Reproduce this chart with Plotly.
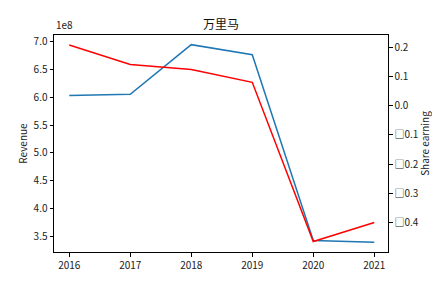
import plotly.graph_objects as go

years = [2016, 2017, 2018, 2019, 2020, 2021]
revenue = [6.03e8, 6.05e8, 6.94e8, 6.76e8, 3.43e8, 3.40e8]
share_earning = [0.208, 0.141, 0.124, 0.080, -0.465, -0.400]

left_ticks = [3.5, 4.0, 4.5, 5.0, 5.5, 6.0, 6.5, 7.0]
left_text = ["3.5", "4.0", "4.5", "5.0", "5.5", "6.0", "6.5", "7.0"]
right_ticks = [-0.4, -0.3, -0.2, -0.1, 0.0, 0.1, 0.2]
right_text = ["□0.4", "□0.3", "□0.2", "□0.1", "0.0", "0.1", "0.2"]

font = "Noto Sans CJK SC, DejaVu Sans, sans-serif"

fig = go.Figure()
fig.add_trace(go.Scatter(x=years, y=[v / 1e8 for v in revenue], mode="lines",
                         line=dict(color="#1f77b4", width=1.5), yaxis="y", showlegend=False))
fig.add_trace(go.Scatter(x=years, y=share_earning, mode="lines",
                         line=dict(color="red", width=1.5), yaxis="y2", showlegend=False))

fig.update_layout(
    width=432, height=288,
    margin=dict(l=54, r=44, t=35, b=36),
    paper_bgcolor="white", plot_bgcolor="white",
    font=dict(family=font, size=10, color="#222"),
    title=dict(text="万里马", x=(54 + 388) / 2 / 432, xanchor="center",
               y=1 - 25 / 288, yanchor="middle", font=dict(size=12, color="#111")),
    xaxis=dict(range=[2015.75, 2021.225], tickvals=years, ticktext=[str(y) for y in years],
               showgrid=False, zeroline=False, showline=True, linecolor="black", linewidth=1,
               mirror=True, ticks="outside", ticklen=3.5, tickcolor="black", tickfont=dict(size=10),
               automargin=False),
    yaxis=dict(range=[3.224, 7.113], tickvals=left_ticks, ticktext=left_text,
               showgrid=False, zeroline=False, showline=True, linecolor="black", linewidth=1,
               ticks="outside", ticklen=3.5, tickcolor="black", tickfont=dict(size=10),
               automargin=False,
               title=dict(text="Revenue", font=dict(size=10), standoff=4)),
    yaxis2=dict(range=[-0.501, 0.242], tickvals=right_ticks, ticktext=right_text,
                overlaying="y", side="right", automargin=False,
                showgrid=False, zeroline=False, showline=True, linecolor="black", linewidth=1,
                ticks="outside", ticklen=3.5, tickcolor="black", tickfont=dict(size=10),
                title=dict(text="Share earning", font=dict(size=10), standoff=19)),
    annotations=[dict(text="1e8", xref="paper", yref="paper", x=0, y=1, xanchor="left",
                      yanchor="bottom", showarrow=False, font=dict(size=10), yshift=1)],
)

fig.write_html("out.html")
